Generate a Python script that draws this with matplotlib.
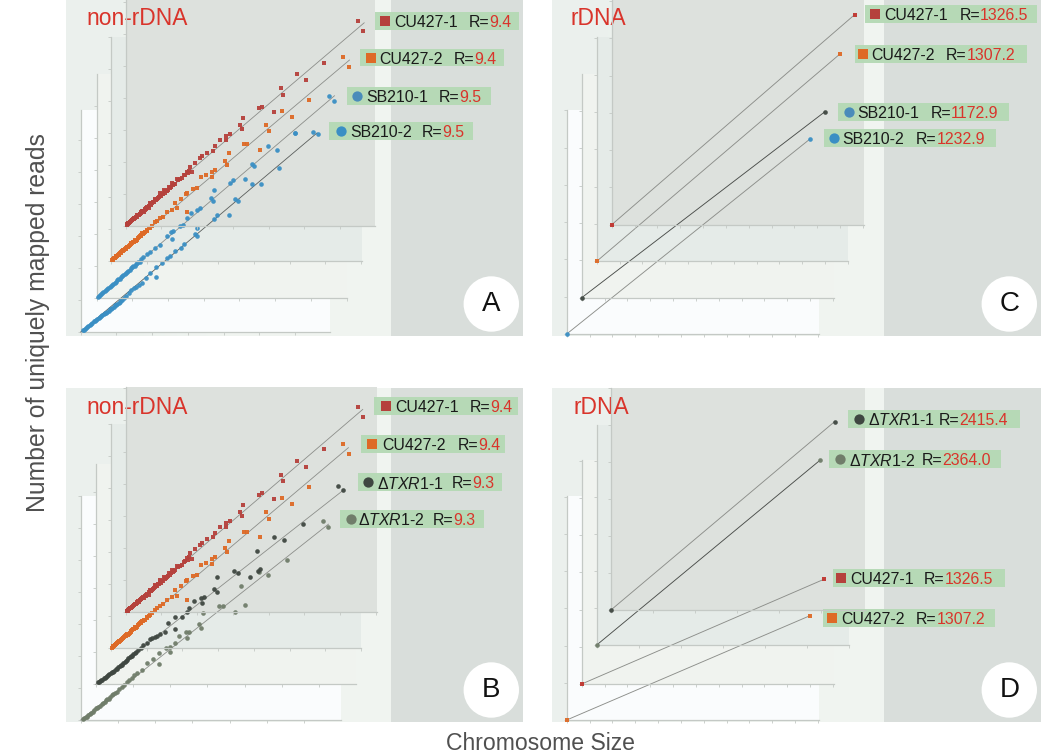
import numpy as np
import matplotlib
matplotlib.use("Agg")
import matplotlib.pyplot as plt
from matplotlib.patches import Rectangle, Circle

plt.rcParams['font.family'] = ['Liberation Sans', 'DejaVu Sans']
plt.rcParams['mathtext.fontset'] = 'custom'
plt.rcParams['mathtext.rm'] = 'Liberation Sans'
plt.rcParams['mathtext.it'] = 'Liberation Sans:italic'

# non-rDNA reads per chromosome, x = size, y = reads (axis units)
cu1_x = [6.50, 6.65, 5.56, 4.80, 5.06, 4.34, 4.42, 3.81, 3.73, 4.16, 3.29, 3.20, 3.26, 2.91, 2.81, 2.82, 2.64, 2.51, 2.44, 2.29,
         2.13, 2.08, 1.95, 1.80, 1.85, 1.71, 1.62, 1.43, 1.29, 1.20, 1.06, 0.96, 0.82, 0.68, 0.64, 0.50, 0.36, 0.23, 0.12, 0.07,
         0.05, 0.09, 0.10, 0.15, 0.17, 0.19, 0.21, 0.26, 0.28, 0.31, 0.33, 0.39, 0.41, 0.44, 0.47, 0.53, 0.56, 0.58, 0.61, 0.71,
         0.74, 0.77, 0.80, 0.85, 0.88, 0.91, 0.93, 0.99, 1.02, 1.09, 1.13, 1.16, 1.24, 1.35,
         1.38, 1.47, 1.52, 1.57, 1.66, 1.75, 1.77, 0.03, 0.07, 0.13, 0.24, 0.35, 0.43, 0.49, 0.55, 0.66, 0.72, 0.83, 0.97, 1.04, 1.11, 1.19, 1.27, 1.33]
cu1_y = [6.41, 6.10, 5.10, 4.74, 4.55, 4.30, 4.09, 3.72, 3.67, 3.54, 3.36, 3.14, 3.01, 2.86, 2.80, 2.68, 2.68, 2.49, 2.34, 2.28,
         2.18, 2.11, 1.97, 1.84, 1.67, 1.69, 1.58, 1.46, 1.32, 1.22, 1.11, 1.01, 0.85, 0.70, 0.54, 0.44, 0.33, 0.23, 0.13, 0.07,
         0.05, 0.09, 0.09, 0.14, 0.17, 0.17, 0.20, 0.25, 0.27, 0.28, 0.32, 0.37, 0.37, 0.42, 0.45, 0.51, 0.52, 0.55, 0.58, 0.68,
         0.70, 0.73, 0.75, 0.81, 0.83, 0.87, 0.89, 0.93, 0.98, 1.03, 1.08, 1.09, 1.18, 1.29,
         1.31, 1.42, 1.45, 1.49, 1.60, 1.64, 1.72, 0.03, 0.05, 0.12, 0.22, 0.34, 0.41, 0.47, 0.50, 0.63, 0.66, 0.79, 0.94, 0.99, 1.07, 1.13, 1.22, 1.27]
cu2_x = [6.51, 6.66, 5.56, 4.80, 5.06, 4.35, 4.42, 3.72, 3.81, 4.16, 3.30, 3.20, 3.26, 2.92, 2.82, 2.84, 2.65, 2.52, 2.42, 2.29,
         2.13, 2.09, 1.95, 1.79, 2.12, 1.84, 1.70, 1.56, 1.37, 1.24, 1.10, 1.02, 0.90, 0.81, 0.70, 0.62, 0.55, 0.48, 0.39, 0.32,
         0.26, 0.20, 0.15, 0.10, 0.07, 0.05, 0.09, 0.13, 0.18, 0.23, 0.29, 0.35, 0.43, 0.52, 0.59, 0.66, 0.75, 0.85, 0.95, 1.06,
         0.03, 0.12, 0.17, 0.22, 0.28, 0.33, 0.37, 0.42, 0.46, 0.50, 0.57, 0.64, 0.68, 0.72, 0.78, 0.83, 0.88, 0.93, 1.00, 1.15, 1.29, 1.45]
cu2_y = [6.38, 6.06, 5.04, 4.69, 4.51, 4.25, 4.05, 3.65, 3.65, 3.48, 3.36, 3.13, 3.00, 2.84, 2.79, 2.63, 2.68, 2.61, 2.29, 2.25,
         2.14, 2.09, 1.94, 1.82, 1.52, 1.65, 1.59, 1.52, 1.33, 1.21, 1.04, 0.98, 0.84, 0.78, 0.64, 0.60, 0.52, 0.43, 0.38, 0.30,
         0.24, 0.19, 0.15, 0.09, 0.07, 0.04, 0.08, 0.12, 0.17, 0.22, 0.27, 0.33, 0.41, 0.49, 0.56, 0.62, 0.72, 0.82, 0.90, 1.02,
         0.02, 0.10, 0.16, 0.20, 0.25, 0.31, 0.35, 0.38, 0.44, 0.46, 0.55, 0.60, 0.66, 0.67, 0.75, 0.78, 0.86, 0.88, 0.95, 1.09, 1.25, 1.39]
sb1_x = [6.51, 6.66, 5.56, 4.80, 5.06, 4.35, 4.42, 3.73, 3.81, 4.16, 3.29, 3.20, 3.25, 2.90, 2.82, 2.64, 2.52, 2.43, 2.32, 2.15,
         2.07, 1.96, 2.12, 1.78, 1.64, 1.50, 1.31, 1.17, 1.03, 0.89, 0.75, 0.61, 0.47, 0.33, 0.19, 0.07,
         1.40, 1.24, 1.10, 0.96, 0.82, 0.68, 0.54, 0.40, 0.26, 0.13, 0.10, 0.05,
         0.16, 0.23, 0.29, 0.36, 0.43, 0.50, 0.57, 0.64, 0.71, 0.78, 0.85, 0.92, 0.99, 1.06, 1.13, 1.20]
sb1_y = [6.32, 6.16, 5.16, 4.75, 4.64, 4.20, 4.11, 3.60, 3.70, 3.71, 3.38, 3.13, 3.02, 2.81, 2.76, 2.66, 2.50, 2.29, 2.24, 2.10,
         2.06, 1.93, 1.84, 1.67, 1.56, 1.44, 1.28, 1.12, 0.99, 0.84, 0.72, 0.59, 0.45, 0.31, 0.18, 0.06,
         1.36, 1.21, 1.05, 0.93, 0.78, 0.66, 0.51, 0.38, 0.25, 0.12, 0.09, 0.04,
         0.15, 0.22, 0.28, 0.33, 0.42, 0.47, 0.55, 0.60, 0.69, 0.74, 0.82, 0.87, 0.96, 1.01, 1.09, 1.14]
sb2_x = [6.50, 6.64, 6.01, 5.55, 5.05, 4.79, 4.33, 4.42, 3.81, 3.72, 4.16, 3.27, 3.19, 3.25, 2.88, 2.80, 2.64, 2.50, 2.41, 2.27,
         2.11, 2.11, 1.94, 1.83, 1.71, 1.62, 1.48, 1.34, 1.20, 1.06, 0.92, 0.78, 0.64, 0.50, 0.36, 0.21, 0.09,
         1.55, 1.41, 1.27, 1.13, 0.99, 0.85, 0.71, 0.57, 0.43, 0.29, 0.15, 0.06,
         0.12, 0.18, 0.25, 0.32, 0.39, 0.46, 0.53, 0.60, 0.67, 0.74, 0.81, 0.88, 0.95, 1.02, 1.09, 1.16]
sb2_y = [6.25, 6.18, 6.22, 5.14, 4.61, 4.64, 4.17, 4.08, 3.67, 3.54, 3.65, 3.25, 3.06, 2.99, 2.75, 2.63, 2.54, 2.36, 2.31, 2.16,
         2.02, 1.72, 1.84, 1.69, 1.53, 1.48, 1.37, 1.22, 1.06, 0.92, 0.79, 0.66, 0.55, 0.44, 0.33, 0.19, 0.07,
         1.42, 1.30, 1.14, 0.99, 0.85, 0.73, 0.60, 0.50, 0.38, 0.26, 0.13, 0.05,
         0.10, 0.16, 0.22, 0.28, 0.35, 0.40, 0.47, 0.52, 0.59, 0.64, 0.71, 0.76, 0.83, 0.88, 0.95, 1.01]
txr1_x = [6.51, 6.65, 5.56, 4.80, 5.05, 4.33, 4.42, 4.37, 3.73, 3.82, 4.15, 3.27, 3.19, 3.25, 2.91, 2.82, 2.85, 2.63, 2.52, 2.45,
          2.31, 2.13, 2.13, 1.95, 1.86, 1.73, 1.59, 1.46, 1.28, 1.15, 1.01, 0.88, 0.74, 0.61, 0.47, 0.34, 0.21, 0.10,
          1.66, 1.52, 1.37, 1.22, 1.08, 0.95, 0.81, 0.68, 0.54, 0.41, 0.27, 0.15, 0.07,
          0.12, 0.18, 0.24, 0.31, 0.37, 0.44, 0.50, 0.57, 0.64, 0.71, 0.78, 0.85, 0.92, 0.98, 1.05]
txr1_y = [6.19, 6.06, 5.01, 4.61, 4.52, 4.17, 3.60, 3.54, 3.55, 3.49, 3.34, 3.36, 2.98, 2.88, 2.74, 2.69, 2.53, 2.61, 2.40, 2.27,
          2.11, 2.09, 1.73, 1.91, 1.65, 1.57, 1.49, 1.41, 1.23, 1.07, 0.95, 0.81, 0.66, 0.55, 0.40, 0.29, 0.19, 0.08,
          1.52, 1.44, 1.30, 1.14, 1.00, 0.88, 0.73, 0.60, 0.47, 0.35, 0.23, 0.13, 0.06,
          0.10, 0.15, 0.21, 0.26, 0.32, 0.37, 0.43, 0.49, 0.56, 0.61, 0.69, 0.75, 0.84, 0.89, 0.97]
txr2_x = [6.50, 6.64, 5.54, 4.80, 5.04, 4.32, 4.41, 3.72, 3.82, 4.14, 3.28, 3.18, 3.24, 2.92, 2.83, 2.85, 2.63, 2.54, 2.40, 2.40,
          2.29, 2.11, 2.11, 1.94, 1.79, 1.64, 1.51, 1.37, 1.24, 1.10, 0.97, 0.79, 0.65, 0.47, 0.34, 0.16, 0.05,
          1.44, 1.30, 1.17, 1.03, 0.88, 0.72, 0.56, 0.40, 0.25, 0.10,
          0.13, 0.20, 0.29, 0.37, 0.44, 0.52, 0.60, 0.68, 0.76, 0.84, 0.92]
txr2_y = [6.21, 6.02, 5.01, 4.61, 4.54, 4.18, 3.60, 3.56, 3.55, 3.38, 3.34, 3.00, 2.86, 2.74, 2.74, 2.57, 2.64, 2.42, 2.29, 2.14,
          2.24, 2.08, 1.74, 1.90, 1.77, 1.56, 1.48, 1.32, 1.18, 1.04, 0.89, 0.73, 0.57, 0.42, 0.26, 0.10, 0.04,
          1.40, 1.25, 1.10, 0.97, 0.81, 0.65, 0.50, 0.36, 0.20, 0.07,
          0.09, 0.16, 0.23, 0.31, 0.36, 0.45, 0.52, 0.61, 0.67, 0.77, 0.83]

# rDNA: two points per series
cu1_rdna_x = [0, 10.64]
cu1_rdna_y = [0, 5.63]
cu2_rdna_x = [0, 10.64]
cu2_rdna_y = [0, 5.55]
sb1_rdna_x = [0, 10.64]
sb1_rdna_y = [0, 4.98]
sb2_rdna_x = [0, 10.64]
sb2_rdna_y = [0, 5.22]
txr1_rdna_x = [0, 5.32]
txr1_rdna_y = [0, 5.10]
txr2_rdna_x = [0, 5.32]
txr2_rdna_y = [0, 5.01]
cu1_rdna_d_x = [0, 10.63]
cu1_rdna_d_y = [0, 2.82]
cu2_rdna_d_x = [0, 10.64]
cu2_rdna_d_y = [0, 2.80]

# end of the fitted line in each non-rDNA layer
trend_a = [(6.68, 6.34), (6.68, 6.28), (6.66, 6.32), (6.62, 6.22)]
trend_b = [(6.64, 6.34), (6.65, 6.27), (6.65, 6.06), (6.66, 6.12)]

names_a = ['CU427-1', 'CU427-2', 'SB210-1', 'SB210-2']
names_b = ['CU427-1', 'CU427-2', r'Δ$\mathit{TXR1}$-1', r'Δ$\mathit{TXR1}$-2']
names_d = [r'Δ$\mathit{TXR1}$-1', r'Δ$\mathit{TXR1}$-2', 'CU427-1', 'CU427-2']
r_a = ['9.4', '9.4', '9.5', '9.5']
r_b = ['9.4', '9.4', '9.3', '9.3']
r_c = ['1326.5', '1307.2', '1172.9', '1232.9']
r_d = ['2415.4', '2364.0', '1326.5', '1307.2']

RED = '#b5413c'
ORANGE = '#de6a27'
BLUE = '#3a8fc4'
DARK = '#3f4741'
GREY = '#707d6a'
BLUE2 = '#4a8cba'
TXT_RED = '#d9342b'

W, H = 1050, 753
fig = plt.figure(figsize=(W / 100, H / 100), dpi=100)
bg = fig.add_axes([0, 0, 1, 1])
bg.set_axis_off()

# layer boxes, pixels: left, baseline, right, top, px per x unit, px per y unit
boxes_a = [(125.7, 225.7, 375, 0, 35.7, 32), (111, 261, 361.7, 36.7, 35.7, 32),
           (96.7, 298, 346.7, 74, 35.7, 32), (80.7, 332, 330.3, 110, 35.7, 32)]
boxes_b = [(125.7, 612.3, 377, 387, 35.7, 32), (111, 648.3, 361, 424, 35.7, 32),
           (95.7, 684.3, 356, 464, 37.2, 32), (80.7, 720, 341, 495.7, 37.2, 32)]
boxes_c = [(611.7, 224.7, 864.3, 0, 22.83, 37.3), (596.7, 261.3, 848.3, 36.7, 22.83, 37.3),
           (581.7, 297.7, 833.7, 74, 22.83, 37.3), (566.7, 334, 819, 110, 22.83, 37.3)]
boxes_d = [(611.3, 609.7, 865, 388, 42, 36.9), (596.7, 645, 849.3, 425, 42, 36.9),
           (581.7, 684, 833.7, 460, 22.83, 37.2), (566.7, 720, 819, 496, 22.83, 37.2)]
fills = ['#dde1dd', '#e5ebe8', '#f0f3ef', '#fafcfd']

# label rows in panel pixels: box left, box right, centre y, marker x, name x, R x
rows_a = [(314.7, 458.7, 21.2, 325.3, 334.3, 409), (300, 444.3, 57.5, 311.3, 319.7, 394),
          (287, 431, 96, 297.3, 306.7, 379), (269, 412.7, 130.8, 281, 290, 362)]
rows_b = [(313.7, 457.7, 25.8, 325.7, 335, 410), (301, 445, 64.2, 312.3, 322.3, 397.3),
          (298, 442, 102.2, 308, 317, 391.7), (279.7, 423.7, 138.8, 290.7, 298.3, 372.7)]
rows_c = [(320, 492, 14, 330.3, 339.3, 414.3), (310, 482, 53.8, 318, 326.7, 401),
          (292.7, 464.3, 112, 304.3, 312.7, 385.3), (279, 451, 138, 288.7, 297.3, 370.7)]
rows_d = [(303, 475, 38.8, 314, 322.7, 393.3), (284, 456, 79.2, 295, 303.7, 376.7),
          (287.7, 459.7, 198.2, 296.3, 305.3, 379), (278.3, 450.3, 237.7, 287.3, 296.3, 370.7)]


def gradient(x0, y0, x1, y1):
    img = np.array([[[0.925, 0.945, 0.93], [0.945, 0.96, 0.945], [0.945, 0.96, 0.945]]])
    bg.imshow(img, extent=(x0, x1, y1, y0), aspect='auto', interpolation='bilinear', zorder=0)


def draw_panel(px, py, pw, ph, split, boxes, series, trends, legend_marks, title, title_x, letter, names, rs, rows, styles):
    gradient(px, py, split, py + ph)
    bg.add_patch(Rectangle((split, py), px + pw - split, ph, color='#d9dedb', lw=0, zorder=1))
    for i in [3, 2, 1, 0]:
        l, b, r, t = boxes[i][:4]
        bg.add_patch(Rectangle((l, t), r - l, b - t, color=fills[i], lw=0, zorder=2 + (3 - i)))

    for i in [3, 2, 1, 0]:
        l, b, r, t, sx, sy = boxes[i]
        ax = fig.add_axes([l / W, 1 - b / H, (r - l) / W, (b - t) / H])
        ax.patch.set_alpha(0)
        ax.set_xlim(0, (r - l) / sx)
        ax.set_ylim(0, (b - t) / sy)
        ax.set_xticks(np.arange(0, (r - l) / sx, 1.0))
        ax.set_yticks(np.arange(0, (b - t) / sy, 1.0))
        ax.set_xticklabels([])
        ax.set_yticklabels([])
        ax.tick_params(length=2, width=0.6, color='#c4c9c5')
        for s in ['top', 'right']:
            ax.spines[s].set_visible(False)
        for s in ['left', 'bottom']:
            ax.spines[s].set_color('#c4c9c5')
            ax.spines[s].set_linewidth(0.9)
        x, y = series[i]
        color, marker, size, line = styles[i]
        if trends is not None:
            ax.plot([0, trends[i][0]], [0, trends[i][1]], color=line, lw=0.6, zorder=3, clip_on=False)
        else:
            ax.plot(x, y, color=line, lw=0.65, zorder=2, clip_on=False)
        ax.scatter(x, y, s=size, marker=marker, color=color, lw=0, zorder=4, clip_on=False, alpha=0.95)

    # B and D were measured from a crop starting 8 px above the panel
    oy = py - 8 if py > 0 else py
    bg.text(title_x, oy + 27 if py > 0 else oy + 18.5, title, color=TXT_RED, fontsize=16.4, va='center', zorder=20)
    bg.add_patch(Circle((px + pw - 31.7, py + ph - 32), 27.7, color='white', lw=0, zorder=20))
    bg.text(px + pw - 31.7, py + ph - 32, letter, color='#111111', fontsize=20, ha='center', va='center', zorder=21)

    for i in range(4):
        x0, x1, yc, mx, nx, rx = rows[i]
        ox = px - 6 if letter in 'AB' else px - 7
        bg.add_patch(Rectangle((ox + x0, oy + yc - 8.9), x1 - x0, 17.8, color='#b4d9b4', lw=0, alpha=0.95, zorder=22))
        color, marker = legend_marks[i]
        bg.scatter([ox + mx], [oy + yc], s=50 if marker == 's' else 55, marker=marker, color=color, lw=0, zorder=23)
        bg.text(ox + nx, oy + yc, names[i], fontsize=11.4, color='#1a1a1a', va='center_baseline', zorder=23)
        bg.text(ox + rx, oy + yc, 'R=', fontsize=11.4, color='#1a1a1a', va='center_baseline', zorder=23)
        bg.text(ox + rx + 20.6, oy + yc, rs[i], fontsize=11.4, color=TXT_RED, va='center_baseline', zorder=23)


LINE = '#8c8e8a'
SQ = 12
CI = 11
draw_panel(66, 0, 457, 336, 391, boxes_a,
           [(cu1_x, cu1_y), (cu2_x, cu2_y), (sb1_x, sb1_y), (sb2_x, sb2_y)], trend_a,
           [(RED, 's'), (ORANGE, 's'), (BLUE2, 'o'), (BLUE, 'o')], 'non-rDNA', 86, 'A', names_a, r_a, rows_a,
           [(RED, 's', SQ, LINE), (ORANGE, 's', SQ, LINE), (BLUE, 'o', CI, LINE), (BLUE, 'o', CI, '#5a5e5c')])
draw_panel(66, 388, 457, 334, 391, boxes_b,
           [(cu1_x, cu1_y), (cu2_x, cu2_y), (txr1_x, txr1_y), (txr2_x, txr2_y)], trend_b,
           [(RED, 's'), (ORANGE, 's'), (DARK, 'o'), (GREY, 'o')], 'non-rDNA', 86, 'B', names_b, r_b, rows_b,
           [(RED, 's', SQ, LINE), (ORANGE, 's', SQ, LINE), (DARK, 'o', CI, LINE), (GREY, 'o', CI, LINE)])
draw_panel(552, 0, 489, 336, 884.3, boxes_c,
           [(cu1_rdna_x, cu1_rdna_y), (cu2_rdna_x, cu2_rdna_y), (sb1_rdna_x, sb1_rdna_y), (sb2_rdna_x, sb2_rdna_y)], None,
           [(RED, 's'), (ORANGE, 's'), (BLUE2, 'o'), (BLUE, 'o')], 'rDNA', 571, 'C', names_a, r_c, rows_c,
           [('#c0352f', 's', SQ, LINE), (ORANGE, 's', SQ, LINE), (DARK, 'o', CI, '#4a4d4a'), (BLUE, 'o', CI, LINE)])
draw_panel(552, 388, 489, 334, 884.3, boxes_d,
           [(txr1_rdna_x, txr1_rdna_y), (txr2_rdna_x, txr2_rdna_y), (cu1_rdna_d_x, cu1_rdna_d_y), (cu2_rdna_d_x, cu2_rdna_d_y)], None,
           [(DARK, 'o'), (GREY, 'o'), (RED, 's'), (ORANGE, 's')], 'rDNA', 573.7, 'D', names_d, r_d, rows_d,
           [(DARK, 'o', CI, LINE), (GREY, 'o', CI, '#4a4d4a'), ('#c0352f', 's', SQ, LINE), (ORANGE, 's', SQ, LINE)])

bg.text(38, 323, 'Number of uniquely mapped reads', rotation=90, fontsize=17.8, color='#505050', ha='center', va='center')
bg.text(540, 743, 'Chromosome Size', fontsize=16.6, color='#505050', ha='center', va='center')

bg.set_xlim(0, W)
bg.set_ylim(H, 0)

fig.savefig('out.png', dpi=100, facecolor='white')
